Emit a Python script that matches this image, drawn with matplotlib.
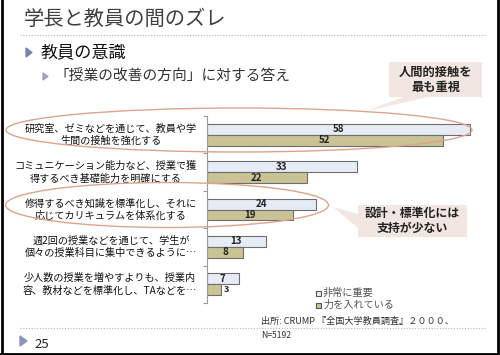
import matplotlib.pyplot as plt
from matplotlib.patches import Ellipse, Polygon, Rectangle

plt.rcParams['font.family'] = ['Noto Sans CJK JP', 'DejaVu Sans']

# data
categories = [
    "研究室、ゼミなどを通じて、教員や学\n生間の接触を強化する",
    "コミュニケーション能力など、授業で獲\n得するべき基礎能力を明確にする",
    "修得するべき知識を標準化し、それに\n応じてカリキュラムを体系化する",
    "週2回の授業などを通じて、学生が\n個々の授業科目に集中できるように…",
    "少人数の授業を増やすよりも、授業内\n容、教材などを標準化し、TAなどを…",
]
very_important = [58, 33, 24, 13, 7]
putting_effort = [52, 22, 19, 8, 3]
series_names = ["非常に重要", "力を入れている"]

C_LIGHT = "#e6ebf5"
C_TAN = "#c9c396"
C_EDGE = "#6e6e6e"
C_OVAL = "#dca48c"
C_CALLOUT = "#f2e6e2"
C_BULLET = "#7a86b0"

fig = plt.figure(figsize=(5, 3.55), dpi=100)
fig.patch.set_facecolor("white")

# ---- bar chart ----
ax = fig.add_axes([207 / 500, 1 - 303 / 355, 272 / 500, 187 / 355])
ax.set_xlim(0, 60)
ax.set_ylim(4.5, -0.5)
ax.patch.set_alpha(0)
h = 0.29
ys = list(range(len(categories)))
b1 = ax.barh([y - h / 2 for y in ys], very_important, height=h,
             color=C_LIGHT, edgecolor=C_EDGE, linewidth=0.8)
b2 = ax.barh([y + h / 2 for y in ys], putting_effort, height=h,
             color=C_TAN, edgecolor=C_EDGE, linewidth=0.8)
for bars in (b1, b2):
    for rect in bars:
        v = rect.get_width()
        cy = rect.get_y() + rect.get_height() / 2
        if v >= 5:
            ax.text(v / 2, cy, f"{v:g}", ha="center", va="center",
                    fontsize=7, fontweight="bold", color="#222222")
        else:
            ax.annotate(f"{v:g}", (v, cy), xytext=(3, 0), textcoords="offset pixels",
                        ha="left", va="center", fontsize=6.5, fontweight="bold", color="#222222")

for y, lab in zip(ys, categories):
    ax.annotate(lab, xy=(0, y), xycoords=("axes fraction", "data"),
                xytext=(-10, 0), textcoords="offset pixels",
                ha="right", va="center", multialignment="center",
                fontsize=7.3, linespacing=1.3, color="#111111")

for s in ("top", "right", "bottom"):
    ax.spines[s].set_visible(False)
ax.spines["left"].set_color("#9a9a9a")
ax.spines["left"].set_linewidth(0.8)
ax.set_xticks([])
ax.set_yticks([y - 0.5 for y in range(len(categories) + 1)])
ax.set_yticklabels([])
ax.tick_params(axis="y", length=3, color="#9a9a9a", width=0.8)

# ---- overlay in pixel coords ----
ov = fig.add_axes([0, 0, 1, 1], zorder=3)
ov.set_xlim(0, 500)
ov.set_ylim(355, 0)
ov.axis("off")
ov.patch.set_alpha(0)

# frame
ov.plot([1.5, 1.5], [0, 353.5], color="black", lw=2)
ov.plot([497.5, 497.5], [0, 353.5], color="black", lw=2)
ov.plot([0, 499], [353.5, 353.5], color="black", lw=2)

# title block
ov.text(24, 19, "学長と教員の間のズレ", fontsize=14.6, color="#404040", va="center")
ov.plot([20, 486], [35, 35], color="#a8b2cf", lw=0.8, ls=(0, (1, 1.5)))
ov.add_patch(Polygon([[26, 48], [26, 57], [32, 52.5]], color=C_BULLET))
ov.text(41, 52, "教員の意識", fontsize=12.3, color="#111111", va="center")
ov.add_patch(Polygon([[43, 73], [43, 80], [48, 76.5]], color="#9aa3c4"))
ov.text(54, 77, "「授業の改善の方向」に対する答え", fontsize=10.6, color="#333333", va="center")

# ovals
ov.add_patch(Ellipse((239, 130), 466, 44, fill=False, ec=C_OVAL, lw=1))
ov.add_patch(Ellipse((167, 205), 323, 45, fill=False, ec=C_OVAL, lw=1))

# callout 1
ov.add_patch(Polygon([[404, 97], [428, 97], [366, 111]], color=C_CALLOUT, ec="none"))
ov.add_patch(Rectangle((389, 62), 93, 35, color=C_CALLOUT, ec="none"))
ov.text(435.5, 79.5, "人間的接触を\n最も重視", fontsize=8.8, fontweight="bold",
        ha="center", va="center", linespacing=1.2, color="#222222")

# callout 2
ov.add_patch(Polygon([[358, 214], [358, 228], [333, 207]], color=C_CALLOUT, ec="none"))
ov.add_patch(Rectangle((358, 205), 109, 32, color=C_CALLOUT, ec="none"))
ov.text(412.5, 221, "設計・標準化には\n支持が少ない", fontsize=8.6, fontweight="bold",
        ha="center", va="center", linespacing=1.2, color="#222222")

# legend
for ly, name, col in zip([293, 305], series_names, [C_LIGHT, C_TAN]):
    ov.add_patch(Rectangle((316, ly - 2.5), 5, 5, facecolor=col, edgecolor="#555555", lw=0.8))
    ov.text(323, ly, name, fontsize=7.3, color="#555555", va="center")

# footer
ov.plot([20, 486], [328, 328], color="#a8b2cf", lw=0.8, ls=(0, (1, 1.5)))
ov.text(261, 321, "出所: CRUMP 『全国大学教員調査』２０００、", fontsize=6.6, color="#333333", va="center")
ov.text(261, 336, "N=5192", fontsize=6.2, color="#333333", va="center")
ov.add_patch(Polygon([[20, 336], [20, 346], [27, 341]], color="#8a97bd"))
ov.text(34, 345, "25", fontsize=9.5, color="#222222", va="center")

fig.savefig("out.png", dpi=100, facecolor="white")
